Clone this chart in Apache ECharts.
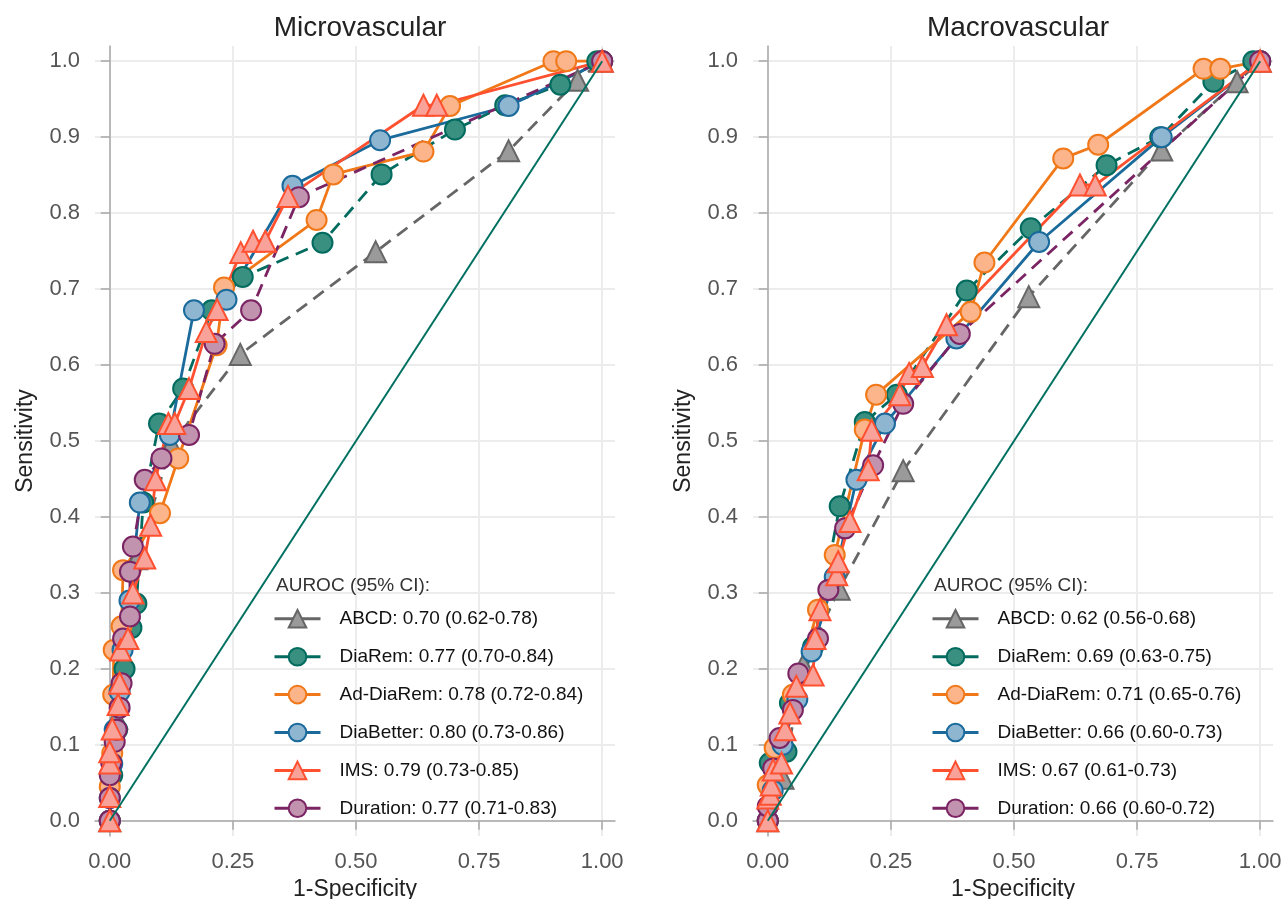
<!DOCTYPE html>
<html>
<head>
<meta charset="utf-8">
<script src="https://cdn.jsdelivr.net/npm/echarts@6/dist/echarts.min.js"></script>
<style>
  html, body { margin: 0; padding: 0; background: #fff; }
  #main { width: 1284px; height: 899px; }
</style>
</head>
<body>
<div id="main"></div>
<script>
// panel titles and legend labels
var panelTitles = ['Microvascular', 'Macrovascular'];
var models = ['ABCD', 'DiaRem', 'Ad-DiaRem', 'DiaBetter', 'IMS', 'Duration'];
var microAuroc = ['0.70 (0.62-0.78)', '0.77 (0.70-0.84)', '0.78 (0.72-0.84)', '0.80 (0.73-0.86)', '0.79 (0.73-0.85)', '0.77 (0.71-0.83)'];
var macroAuroc = ['0.62 (0.56-0.68)', '0.69 (0.63-0.75)', '0.71 (0.65-0.76)', '0.66 (0.60-0.73)', '0.67 (0.61-0.73)', '0.66 (0.60-0.72)'];

var xTicks = [0, 0.25, 0.5, 0.75, 1];
var yTicks = [0, 0.1, 0.2, 0.3, 0.4, 0.5, 0.6, 0.7, 0.8, 0.9, 1.0];

// ROC points [1-specificity, sensitivity] - Microvascular
var microABCD = [[0,0],[0.014,0.135],[0.055,0.345],[0.125,0.495],[0.265,0.614],[0.54,0.749],[0.81,0.882],[0.95,0.975],[1,1]];
var microDiaRem = [[0,0],[0.005,0.06],[0.015,0.12],[0.03,0.2],[0.044,0.254],[0.054,0.286],[0.068,0.419],[0.1,0.523],[0.149,0.569],[0.207,0.672],[0.27,0.716],[0.432,0.761],[0.552,0.851],[0.701,0.91],[0.803,0.942],[0.915,0.969],[0.99,1],[1,1]];
var microAdDiaRem = [[0,0],[0,0.045],[0.005,0.089],[0.007,0.166],[0.008,0.225],[0.024,0.256],[0.027,0.33],[0.102,0.405],[0.139,0.477],[0.217,0.626],[0.232,0.702],[0.42,0.791],[0.454,0.851],[0.637,0.881],[0.691,0.941],[0.901,1],[0.927,1],[1,1]];
var microDiaBetter = [[0,0],[0,0.03],[0.005,0.075],[0.01,0.12],[0.02,0.17],[0.026,0.225],[0.04,0.29],[0.061,0.419],[0.122,0.508],[0.171,0.672],[0.237,0.686],[0.371,0.836],[0.549,0.896],[0.81,0.941],[1,1]];
var microIMS = [[0,0],[0,0.032],[0,0.076],[0,0.091],[0.005,0.121],[0.017,0.153],[0.02,0.181],[0.022,0.225],[0.037,0.24],[0.047,0.3],[0.071,0.346],[0.083,0.389],[0.093,0.449],[0.119,0.523],[0.132,0.523],[0.161,0.569],[0.196,0.644],[0.218,0.673],[0.266,0.748],[0.291,0.763],[0.316,0.763],[0.362,0.822],[0.637,0.942],[0.664,0.942],[1,1]];
var microDuration = [[0,0],[0,0.03],[0,0.06],[0.003,0.076],[0.01,0.104],[0.014,0.12],[0.02,0.149],[0.024,0.181],[0.027,0.24],[0.041,0.269],[0.041,0.328],[0.047,0.361],[0.071,0.449],[0.105,0.477],[0.161,0.508],[0.213,0.628],[0.287,0.672],[0.384,0.821],[1,1]];

// ROC points - Macrovascular
var macroABCD = [[0,0],[0.031,0.056],[0.072,0.205],[0.145,0.305],[0.275,0.461],[0.53,0.69],[0.8,0.883],[0.953,0.973],[1,1]];
var macroDiaRem = [[0,0],[0.004,0.076],[0.038,0.091],[0.045,0.155],[0.092,0.229],[0.146,0.414],[0.197,0.525],[0.262,0.561],[0.404,0.698],[0.534,0.78],[0.688,0.863],[0.797,0.9],[0.905,0.973],[0.986,1],[1,1]];
var macroAdDiaRem = [[0,0],[0,0.047],[0.014,0.096],[0.051,0.166],[0.102,0.278],[0.136,0.35],[0.197,0.515],[0.22,0.561],[0.412,0.67],[0.44,0.735],[0.6,0.872],[0.671,0.89],[0.885,0.99],[0.919,0.99],[1,1]];
var macroDiaBetter = [[0,0],[0.01,0.04],[0.03,0.1],[0.06,0.16],[0.089,0.223],[0.136,0.321],[0.18,0.449],[0.238,0.523],[0.383,0.635],[0.551,0.762],[0.8,0.9],[1,1]];
var macroIMS = [[0,0],[0,0.03],[0.005,0.035],[0.007,0.047],[0.011,0.067],[0.028,0.076],[0.035,0.12],[0.045,0.142],[0.058,0.177],[0.092,0.192],[0.096,0.24],[0.106,0.278],[0.14,0.324],[0.143,0.341],[0.167,0.394],[0.204,0.462],[0.211,0.514],[0.268,0.561],[0.287,0.589],[0.314,0.598],[0.363,0.653],[0.634,0.837],[0.665,0.837],[1,1]];
var macroDuration = [[0,0],[0,0.019],[0.011,0.069],[0.024,0.109],[0.051,0.146],[0.062,0.194],[0.102,0.24],[0.123,0.304],[0.157,0.385],[0.214,0.468],[0.275,0.549],[0.39,0.641],[1,1]];

var refLine = [[0,0],[1,1]];

// styles per model: line colour, marker fill, symbol, dashed?
var styles = [
  {line: '#666666', fill: '#9a9a9a', symbol: 'triangle', dash: true},
  {line: '#006b5e', fill: '#3a9080', symbol: 'circle', dash: true},
  {line: '#f07818', fill: '#fcb48a', symbol: 'circle', dash: false},
  {line: '#1a6a9c', fill: '#8fb6d1', symbol: 'circle', dash: false},
  {line: '#ff5030', fill: '#f9a29a', symbol: 'triangle', dash: false},
  {line: '#7a2464', fill: '#c293ae', symbol: 'circle', dash: true}
];
var drawOrder = [0, 1, 2, 3, 5, 4];

var panelData = [
  [microABCD, microDiaRem, microAdDiaRem, microDiaBetter, microIMS, microDuration],
  [macroABCD, macroDiaRem, macroAdDiaRem, macroDiaBetter, macroIMS, macroDuration]
];
var panelAuroc = [microAuroc, macroAuroc];

var font = '"Liberation Sans", Arial, Helvetica, sans-serif';
var gridLefts = [95, 753];
var gridWidth = 520;

var grids = [], xAxes = [], yAxes = [], series = [], legends = [], titles = [];

for (var p = 0; p < 2; p++) {
  grids.push({left: gridLefts[p], width: gridWidth, top: 46, height: 790, outerBoundsMode: 'none', containLabel: false});
  xAxes.push({
    type: 'value', gridIndex: p, min: -0.03, max: 1.026,
    name: '1-Specificity', nameLocation: 'middle', nameGap: 40,
    nameTextStyle: {fontSize: 23, color: '#222', fontFamily: font},
    axisLine: {show: true, lineStyle: {color: '#a8a8a8', width: 1.5}},
    axisTick: {show: true, length: 9, lineStyle: {color: '#a8a8a8', width: 1.5}, customValues: xTicks},
    axisLabel: {fontSize: 22, color: '#555', fontFamily: font, margin: 15, customValues: xTicks,
      formatter: function (v) { return v.toFixed(2); }},
    splitLine: {show: true, lineStyle: {color: '#ececec', width: 2}}
  });
  yAxes.push({
    type: 'value', gridIndex: p, min: -0.02, max: 1.02,
    name: 'Sensitivity', nameLocation: 'middle', nameGap: 58,
    nameTextStyle: {fontSize: 23, color: '#222', fontFamily: font},
    axisLine: {show: true, lineStyle: {color: '#a8a8a8', width: 1.5}},
    axisTick: {show: true, length: 9, lineStyle: {color: '#a8a8a8', width: 1.5}, customValues: yTicks},
    axisLabel: {fontSize: 22, color: '#555', fontFamily: font, margin: 15, customValues: yTicks,
      formatter: function (v) { return v.toFixed(1); }},
    splitLine: {show: true, lineStyle: {color: '#ececec', width: 2}}
  });

  var names = [];
  for (var m = 0; m < models.length; m++) {
    names.push(models[m] + ': ' + panelAuroc[p][m]);
  }
  drawOrder.forEach(function (m) {
    var s = styles[m];
    series.push({
      name: names[m],
      type: 'line',
      xAxisIndex: p, yAxisIndex: p,
      data: panelData[p][m],
      symbol: s.symbol,
      symbolSize: s.symbol === 'triangle' ? 21 : 20,
      showAllSymbol: true,
      lineStyle: {color: s.line, width: 2.8, type: s.dash ? [13, 8] : 'solid'},
      itemStyle: {color: s.fill, borderColor: s.line, borderWidth: 2},
      emphasis: {disabled: true},
      animation: false
    });
  });
  // chance line
  series.push({
    name: 'ref' + p,
    type: 'line',
    xAxisIndex: p, yAxisIndex: p,
    data: refLine,
    symbol: 'none',
    lineStyle: {color: '#007060', width: 2},
    emphasis: {disabled: true},
    animation: false,
    z: 5
  });

  legends.push({
    data: names,
    orient: 'vertical',
    left: gridLefts[p] + 173,
    top: 604,
    itemWidth: 46,
    itemHeight: 22,
    itemGap: 18.3,
    lineStyle: {type: 'solid', width: 3},
    textStyle: {fontSize: 19, color: '#111', fontFamily: font, padding: [0, 0, 0, 14]},
    selectedMode: false
  });

  titles.push({
    text: panelTitles[p],
    left: gridLefts[p] + gridWidth / 2,
    textAlign: 'center',
    top: 9,
    textStyle: {fontSize: 28, fontWeight: 'normal', color: '#222', fontFamily: font}
  });
  titles.push({
    text: 'AUROC (95% CI):',
    left: gridLefts[p] + 181,
    top: 576,
    padding: 0,
    textStyle: {fontSize: 19, fontWeight: 'normal', color: '#333', fontFamily: font}
  });
}

var myChart = echarts.init(document.getElementById('main'));
myChart.setOption({
  backgroundColor: '#ffffff',
  animation: false,
  title: titles,
  legend: legends,
  grid: grids,
  xAxis: xAxes,
  yAxis: yAxes,
  series: series
});
</script>
</body>
</html>
